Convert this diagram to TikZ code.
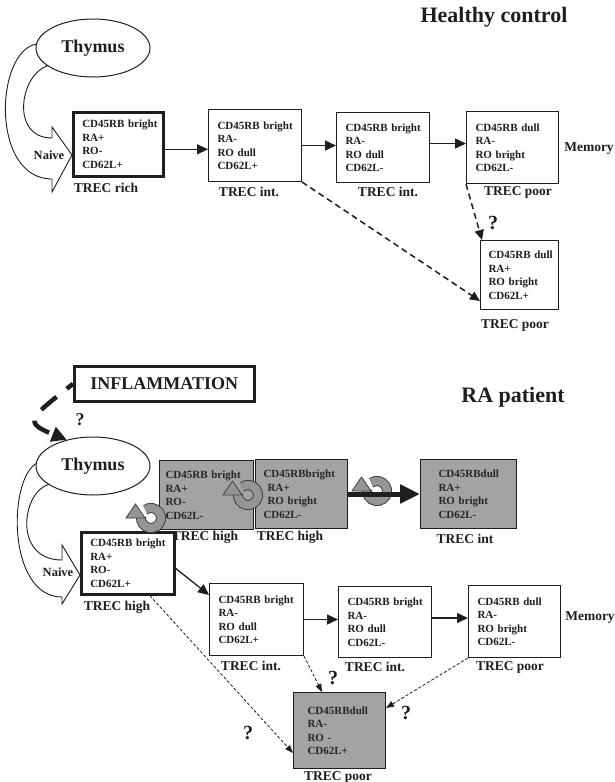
\documentclass[tikz,border=0pt]{standalone}
\usepackage{fontspec}
\setmainfont{Liberation Serif}
\usetikzlibrary{arrows.meta,shapes.geometric,calc}
\definecolor{boxgray}{RGB}{163,163,163}
\definecolor{loopgray}{RGB}{150,150,150}
\definecolor{ink}{RGB}{30,30,30}
\newcommand\cellfont{\fontsize{11}{13.5}\selectfont\bfseries}
\newcommand\trecfont{\fontsize{13.5}{13.5}\selectfont\bfseries}
\begin{document}
\begin{tikzpicture}[x=1pt,y=-1pt,
  cell/.style={draw=ink, line width=1pt, fill=white, anchor=north west, align=left, inner ysep=0pt, font=\cellfont, text=ink},
  thickcell/.style={cell, line width=2.6pt},
  graycell/.style={cell, fill=boxgray, text=black!85},
  trec/.style={font=\trecfont, text=ink, inner sep=0pt},
  qm/.style={font=\fontsize{20}{20}\selectfont\bfseries, text=ink, inner sep=0pt},
  thy/.style={ellipse, draw=ink, line width=1pt, fill=white, minimum width=114pt, minimum height=58pt, inner sep=0pt, font=\fontsize{18}{18}\selectfont\bfseries, text=ink},
  hollow/.style={draw=ink, line width=0.9pt, fill=white, line join=miter},
  naive/.style={font=\fontsize{12.5}{12.5}\selectfont\bfseries, text=ink, inner sep=0pt},
  arr/.style={-{Triangle[length=11pt,width=10pt]}, line width=1.3pt, draw=ink},
  thickarr/.style={-{Triangle[length=20pt,width=18pt]}, line width=5pt, draw=ink},
  dasharr/.style={-{Triangle[length=10pt,width=9pt]}, line width=1.5pt, draw=ink, dash pattern=on 6pt off 4pt},
  thindash/.style={-{Triangle[length=8pt,width=6pt]}, line width=0.8pt, draw=ink, dash pattern=on 3pt off 2pt},
  cyc/.pic={
    \draw[line width=10pt, draw=black!75] (235:10) arc[start angle=235, end angle=545, radius=10];
    \draw[line width=8pt, draw=loopgray] (235:10) arc[start angle=235, end angle=545, radius=10];
    \filldraw[fill=loopgray, draw=black!75, line width=0.8pt] (-25,0) -- (-15.5,-14) -- (-6,0) -- cycle;
  }]
\useasboundingbox (0,0) rectangle (615,782);
\fill[white] (0,0) rectangle (615,782);

% ---------------- Healthy control ----------------
\node[font=\fontsize{22}{22}\selectfont\bfseries, text=ink] (t1) at (494,17) {Healthy control};

\filldraw[hollow] (37,44) .. controls (-5,50) and (-10,179) .. (52,179) -- (52,192) -- (72,155) -- (52,127) -- (52,138) .. controls (10,138) and (20,75) .. (47,66) -- cycle;
\node[thy] (thy1) at (93,48) {Thymus};
\node[naive] (nv1) at (49,155) {Naive};

\node[thickcell, inner xsep=9pt, text width=72pt, minimum height=64pt] (b1) at (72,111) {CD45RB~bright\\RA+\\RO-\\CD62L+};
\node[cell, inner xsep=9pt, text width=75pt, minimum height=72pt] (b2) at (208,109) {CD45RB~bright\\RA-\\RO~dull\\CD62L+};
\node[cell, inner xsep=9pt, text width=75pt, minimum height=70pt] (b3) at (336,112) {CD45RB~bright\\RA-\\RO~dull\\CD62L-};
\node[cell, inner xsep=9pt, text width=74pt, minimum height=72pt] (b4) at (466,111) {CD45RB~dull\\RA-\\RO~bright\\CD62L-};
\node[cell, inner xsep=8pt, text width=62pt, minimum height=69pt] (b5) at (480,240) {CD45RB~dull\\RA+\\RO~bright\\CD62L+};

\node[trec] (l1) at (106,188) {TREC rich};
\node[trec] (l2) at (249,192) {TREC int.};
\node[trec] (l3) at (388,192) {TREC int.};
\node[trec] (l4) at (518,192) {TREC poor};
\node[trec] (l5) at (515,325) {TREC poor};
\node[trec] (m1) at (589,149) {Memory};

\draw[arr] ([yshift=-5pt]b1.east) -- ([yshift=-5pt]b1.east -| b2.west);
\draw[arr] (b2.east) -- (b2.east -| b3.west);
\draw[arr] ([yshift=4pt]b3.east) -- ([yshift=4pt]b3.east -| b4.west);
\draw[dasharr] (b2.south east) -- ([yshift=9pt]b5.south west);
\draw[dasharr] (b4.south west) -- ([xshift=2pt]b5.north west);
\node[qm] (q1) at (493,223) {?};

% ---------------- RA patient ----------------
\node[font=\fontsize{22}{22}\selectfont\bfseries, text=ink] (t2) at (513,397) {RA patient};
\node[draw=ink, line width=2.6pt, fill=white, anchor=north west, minimum width=180pt, minimum height=35pt, inner sep=0pt, font=\fontsize{18}{18}\selectfont\bfseries, text=ink] (infl) at (73,365) {INFLAMMATION};

\filldraw[hollow] (40,462) .. controls (8,470) and (5,597) .. (62,597) -- (62,604) -- (80,575) -- (62,545) -- (62,560) .. controls (12,560) and (22,490) .. (50,484) -- cycle;
\node[thy] (thy2) at (93,466) {Thymus};
\node[naive] (nv2) at (58,572) {Naive};

\draw[line width=4.5pt, draw=ink, dash pattern=on 20pt off 13pt, dash phase=12pt, -{Triangle[length=15pt,width=15pt]}] (infl.west) .. controls (30,418) and (22,422) .. (thy2.135);
\node[qm, font=\fontsize{18}{18}\selectfont\bfseries] (q2) at (80,420) {?};

\node[graycell, inner xsep=6pt, text width=82pt, minimum height=69pt] (B) at (159,460) {CD45RB~bright\\RA+\\RO-\\CD62L-};
\node[graycell, inner xsep=8pt, text width=76pt, minimum height=69pt] (C) at (255,459) {CD45RBbright\\\hspace*{4pt}RA+\\\hspace*{4pt}RO~bright\\CD62L-};
\node[graycell, inner xsep=18pt, text width=60pt, minimum height=69pt] (D) at (420,459) {CD45RBdull\\RA+\\RO~bright\\CD62L-};
\node[thickcell, inner xsep=9pt, text width=75pt, minimum height=62pt] (A) at (80,531) {CD45RB~bright\\RA+\\RO-\\CD62L+};
\node[cell, inner xsep=9pt, text width=76pt, minimum height=72pt] (E) at (209,583) {CD45RB~bright\\RA-\\RO~dull\\CD62L+};
\node[cell, inner xsep=9pt, text width=75pt, minimum height=71pt] (F) at (338,586) {CD45RB~bright\\RA-\\RO~dull\\CD62L-};
\node[cell, inner xsep=9pt, text width=74pt, minimum height=72pt] (G) at (468,585) {CD45RB~dull\\RA-\\RO~bright\\CD62L-};
\node[graycell, inner xsep=14pt, text width=64pt, minimum height=76pt] (H) at (293,692) {CD45RBdull\\RA-\\RO~-\\CD62L+};

\node[trec] (lA) at (117,607) {TREC high};
\node[trec] (lB) at (205,537) {TREC high};
\node[trec] (lC) at (290,537) {TREC high};
\node[trec] (lD) at (465,539) {TREC int};
\node[trec] (lE) at (251,666) {TREC int.};
\node[trec] (lF) at (375,667) {TREC int.};
\node[trec] (lG) at (510,667) {TREC poor};
\node[trec] (lH) at (338,777) {TREC poor};
\node[trec] (m2) at (590,618) {Memory};

\pic at (151,518) {cyc};
\pic at (248,495) {cyc};
\pic at (377,491) {cyc};

\draw[thickarr] (C.east) -- (D.west);
\draw[arr] ([yshift=-5pt]A.east) -- ([yshift=-12pt]E.north west);
\draw[arr] (E.east) -- (E.east -| F.west);
\draw[arr] ([yshift=4pt]F.east) -- ([yshift=4pt]F.east -| G.west);
\draw[thindash] ([xshift=22pt]A.south) -- ([yshift=16pt]H.south west);
\draw[thindash] (E.south east) -- ([xshift=29pt]H.north west);
\draw[thindash] (G.south west) -- ([yshift=-16pt]H.north east);

\node[qm] (q3) at (333,678) {?};
\node[qm] (q4) at (406,713) {?};
\node[qm] (q5) at (248,733) {?};
\end{tikzpicture}
\end{document}
